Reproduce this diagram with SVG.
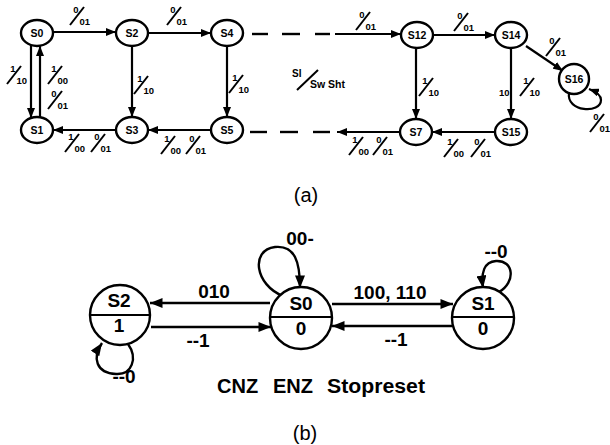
<svg xmlns="http://www.w3.org/2000/svg" width="610" height="445" viewBox="0 0 610 445">
<defs>
<marker id="ah" viewBox="0 0 10 8" refX="10" refY="4" markerWidth="10" markerHeight="8" orient="auto" markerUnits="userSpaceOnUse"><path d="M0,0 L10,4 L0,8 z" fill="#000"/></marker>
<marker id="ahb" viewBox="0 0 10 8" refX="10" refY="4" markerWidth="13" markerHeight="10" orient="auto" markerUnits="userSpaceOnUse"><path d="M0,0 L10,4 L0,8 z" fill="#000"/></marker>
</defs>
<style>
.na ellipse{fill:#fff;stroke:#000;stroke-width:2.4}
.na text{font:bold 10.5px "Liberation Sans",Arial,sans-serif;text-anchor:middle}
.nb circle{fill:#fff;stroke:#000;stroke-width:2.4}
.nb line{stroke:#000;stroke-width:2.2}
.nb text{font:bold 19px "Liberation Sans",Arial,sans-serif;text-anchor:middle}
.ca line,.ca path{stroke:#000;stroke-width:2.2;fill:none}
.ca .d{stroke-width:2.4}
.cb line,.cb path{stroke:#000;stroke-width:2.4;fill:none}
.fr line{stroke:#000;stroke-width:2}
.fr text{font:bold 9.5px "Liberation Sans",Arial,sans-serif}
.fr .n{text-anchor:end}
.lb{font:bold 19px "Liberation Sans",Arial,sans-serif}
.cap{font:20px "Liberation Sans",Arial,sans-serif}
</style>
<rect width="610" height="445" fill="#fff"/>

<!-- (a) connectors -->
<g id="connectors-a" class="ca">
<line x1="53" y1="32" x2="116" y2="32" marker-end="url(#ah)"/>
<line x1="148" y1="33" x2="211" y2="33" marker-end="url(#ah)"/>
<line x1="132" y1="46" x2="132" y2="117" marker-end="url(#ah)"/>
<line x1="227" y1="46" x2="227" y2="117" marker-end="url(#ah)"/>
<line x1="116" y1="130" x2="53" y2="130" marker-end="url(#ah)"/>
<line x1="211" y1="130" x2="148" y2="130" marker-end="url(#ah)"/>
<line x1="31" y1="45" x2="31" y2="118" marker-end="url(#ah)"/>
<line x1="40" y1="117" x2="40" y2="46" marker-end="url(#ah)"/>
<line class="d" x1="252" y1="34" x2="268" y2="34"/>
<line class="d" x1="282" y1="34" x2="300" y2="34"/>
<line class="d" x1="315" y1="34" x2="330" y2="34"/>
<line x1="335" y1="34" x2="401" y2="34" marker-end="url(#ah)"/>
<line x1="433" y1="35" x2="495" y2="35" marker-end="url(#ah)"/>
<line x1="416" y1="47" x2="416" y2="119" marker-end="url(#ah)"/>
<line x1="511" y1="48" x2="511" y2="119" marker-end="url(#ah)"/>
<line x1="526" y1="46" x2="563" y2="71" marker-end="url(#ah)"/>
<path d="M569,93 C566,112 601,114 601,100 C601,95 597,92 589,89" marker-end="url(#ah)"/>
<line x1="495" y1="132" x2="432" y2="132" marker-end="url(#ah)"/>
<line x1="399" y1="132" x2="337" y2="132" marker-end="url(#ah)"/>
<line class="d" x1="313" y1="132" x2="330" y2="132"/>
<line class="d" x1="280" y1="132" x2="298" y2="132"/>
<line class="d" x1="250" y1="132" x2="267" y2="132"/>
</g>

<!-- (a) nodes -->
<g id="a-S0" class="na"><ellipse cx="37" cy="33" rx="16" ry="13"/><text x="37" y="37">S0</text></g>
<g id="a-S2" class="na"><ellipse cx="132" cy="33" rx="16" ry="13"/><text x="132" y="37">S2</text></g>
<g id="a-S4" class="na"><ellipse cx="227" cy="33" rx="16" ry="13"/><text x="227" y="37">S4</text></g>
<g id="a-S1" class="na"><ellipse cx="37" cy="130" rx="16" ry="13"/><text x="37" y="134">S1</text></g>
<g id="a-S3" class="na"><ellipse cx="132" cy="130" rx="16" ry="13"/><text x="132" y="134">S3</text></g>
<g id="a-S5" class="na"><ellipse cx="227" cy="130" rx="16" ry="13"/><text x="227" y="134">S5</text></g>
<g id="a-S12" class="na"><ellipse cx="417" cy="35" rx="16" ry="13"/><text x="417" y="39">S12</text></g>
<g id="a-S14" class="na"><ellipse cx="511" cy="35" rx="16" ry="13"/><text x="511" y="39">S14</text></g>
<g id="a-S16" class="na"><ellipse cx="574" cy="79" rx="15" ry="15"/><text x="574" y="83">S16</text></g>
<g id="a-S7" class="na"><ellipse cx="416" cy="132" rx="16" ry="13"/><text x="416" y="136">S7</text></g>
<g id="a-S15" class="na"><ellipse cx="511" cy="132" rx="16" ry="13"/><text x="511" y="136">S15</text></g>

<!-- (a) labels -->
<g id="labels-a">
<g class="fr" transform="translate(77,16)"><line x1="-7" y1="9" x2="7" y2="-9"/><text class="n" x="1.5" y="-3">0</text><text x="2.5" y="9">01</text></g>
<g class="fr" transform="translate(174,16)"><line x1="-7" y1="9" x2="7" y2="-9"/><text class="n" x="1.5" y="-3">0</text><text x="2.5" y="9">01</text></g>
<g class="fr" transform="translate(14,75)"><line x1="-7" y1="9" x2="7" y2="-9"/><text class="n" x="1.5" y="-3">1</text><text x="2.5" y="9">10</text></g>
<g class="fr" transform="translate(55,75)"><line x1="-7" y1="9" x2="7" y2="-9"/><text class="n" x="1.5" y="-3">1</text><text x="2.5" y="9">00</text></g>
<g class="fr" transform="translate(55,100)"><line x1="-7" y1="9" x2="7" y2="-9"/><text class="n" x="1.5" y="-3">0</text><text x="2.5" y="9">01</text></g>
<g class="fr" transform="translate(141,85)"><line x1="-7" y1="9" x2="7" y2="-9"/><text class="n" x="1.5" y="-3">1</text><text x="2.5" y="9">10</text></g>
<g class="fr" transform="translate(236,84)"><line x1="-7" y1="9" x2="7" y2="-9"/><text class="n" x="1.5" y="-3">1</text><text x="2.5" y="9">10</text></g>
<g class="fr" transform="translate(72,143)"><line x1="-7" y1="9" x2="7" y2="-9"/><text class="n" x="1.5" y="-3">1</text><text x="2.5" y="9">00</text></g>
<g class="fr" transform="translate(98,143)"><line x1="-7" y1="9" x2="7" y2="-9"/><text class="n" x="1.5" y="-3">0</text><text x="2.5" y="9">01</text></g>
<g class="fr" transform="translate(168,145)"><line x1="-7" y1="9" x2="7" y2="-9"/><text class="n" x="1.5" y="-3">1</text><text x="2.5" y="9">00</text></g>
<g class="fr" transform="translate(193,145)"><line x1="-7" y1="9" x2="7" y2="-9"/><text class="n" x="1.5" y="-3">0</text><text x="2.5" y="9">01</text></g>
<g class="fr" transform="translate(363,21)"><line x1="-7" y1="9" x2="7" y2="-9"/><text class="n" x="1.5" y="-3">0</text><text x="2.5" y="9">01</text></g>
<g class="fr" transform="translate(461,22)"><line x1="-7" y1="9" x2="7" y2="-9"/><text class="n" x="1.5" y="-3">0</text><text x="2.5" y="9">01</text></g>
<g class="fr" transform="translate(553,47)"><line x1="-7" y1="9" x2="7" y2="-9"/><text class="n" x="1.5" y="-3">0</text><text x="2.5" y="9">01</text></g>
<g class="fr" transform="translate(426,87)"><line x1="-7" y1="9" x2="7" y2="-9"/><text class="n" x="1.5" y="-3">1</text><text x="2.5" y="9">10</text></g>
<g class="fr" transform="translate(527,87)"><line x1="-7" y1="9" x2="7" y2="-9"/><text class="n" x="1.5" y="-3">1</text><text x="2.5" y="9">10</text></g>
<g class="fr" transform="translate(597,123)"><line x1="-7" y1="9" x2="7" y2="-9"/><text class="n" x="1.5" y="-3">0</text><text x="2.5" y="9">01</text></g>
<g class="fr" transform="translate(356,146)"><line x1="-7" y1="9" x2="7" y2="-9"/><text class="n" x="1.5" y="-3">1</text><text x="2.5" y="9">00</text></g>
<g class="fr" transform="translate(380,146)"><line x1="-7" y1="9" x2="7" y2="-9"/><text class="n" x="1.5" y="-3">0</text><text x="2.5" y="9">01</text></g>
<g class="fr" transform="translate(451,148)"><line x1="-7" y1="9" x2="7" y2="-9"/><text class="n" x="1.5" y="-3">1</text><text x="2.5" y="9">00</text></g>
<g class="fr" transform="translate(478,148)"><line x1="-7" y1="9" x2="7" y2="-9"/><text class="n" x="1.5" y="-3">0</text><text x="2.5" y="9">01</text></g>
<text x="499" y="96" style="font:bold 9.5px 'Liberation Sans',Arial,sans-serif">10</text>
<g class="fr"><line x1="297" y1="90" x2="318" y2="70"/><text x="292" y="77" style="font-size:10px">SI</text><text x="310" y="88" style="font-size:10.5px">Sw Sht</text></g>
</g>
<text class="cap" x="306" y="202" text-anchor="middle">(a)</text>

<!-- (b) connectors -->
<g id="connectors-b" class="cb">
<line x1="270" y1="303" x2="150" y2="303" marker-end="url(#ahb)"/>
<line x1="151" y1="327" x2="271" y2="327" marker-end="url(#ahb)"/>
<line x1="332" y1="304" x2="453" y2="304" marker-end="url(#ahb)"/>
<line x1="453" y1="326" x2="332" y2="326" marker-end="url(#ahb)"/>
<path d="M283,296 C255,285 250,250 275,247 C295,245 300,262 300,288" marker-end="url(#ahb)"/>
<path d="M499,292 C516,282 514,260 496,261 C484,262 481,272 483,288" marker-end="url(#ahb)"/>
<path d="M128,344 C138,358 132,375 116,374 C96,373 92,358 102,343" marker-end="url(#ahb)"/>
</g>

<!-- (b) nodes -->
<g id="b-S2" class="nb"><circle cx="120" cy="315" r="30"/><line x1="90" y1="315" x2="150" y2="315"/><text x="119" y="307">S2</text><text x="119" y="332">1</text></g>
<g id="b-S0" class="nb"><circle cx="301" cy="318" r="31"/><line x1="270" y1="317" x2="332" y2="317"/><text x="301" y="310">S0</text><text x="301" y="335">0</text></g>
<g id="b-S1" class="nb"><circle cx="483" cy="318" r="31"/><line x1="452" y1="317" x2="514" y2="317"/><text x="483" y="310">S1</text><text x="483" y="335">0</text></g>

<!-- (b) labels -->
<g id="labels-b" class="lb">
<text x="214" y="298" text-anchor="middle">010</text>
<text x="198" y="347" text-anchor="middle">--1</text>
<text x="390" y="299" text-anchor="middle">100, 110</text>
<text x="396" y="346" text-anchor="middle">--1</text>
<text x="300" y="245" text-anchor="middle">00-</text>
<text x="496" y="258" text-anchor="middle">--0</text>
<text x="124" y="383" text-anchor="middle">--0</text>
<text x="217" y="393" style="font-size:20px">CNZ</text>
<text x="273" y="393" style="font-size:20px">ENZ</text>
<text x="327" y="393" style="font-size:20px" textLength="98" lengthAdjust="spacingAndGlyphs">Stopreset</text>
</g>
<text class="cap" x="305" y="440" text-anchor="middle">(b)</text>
</svg>
